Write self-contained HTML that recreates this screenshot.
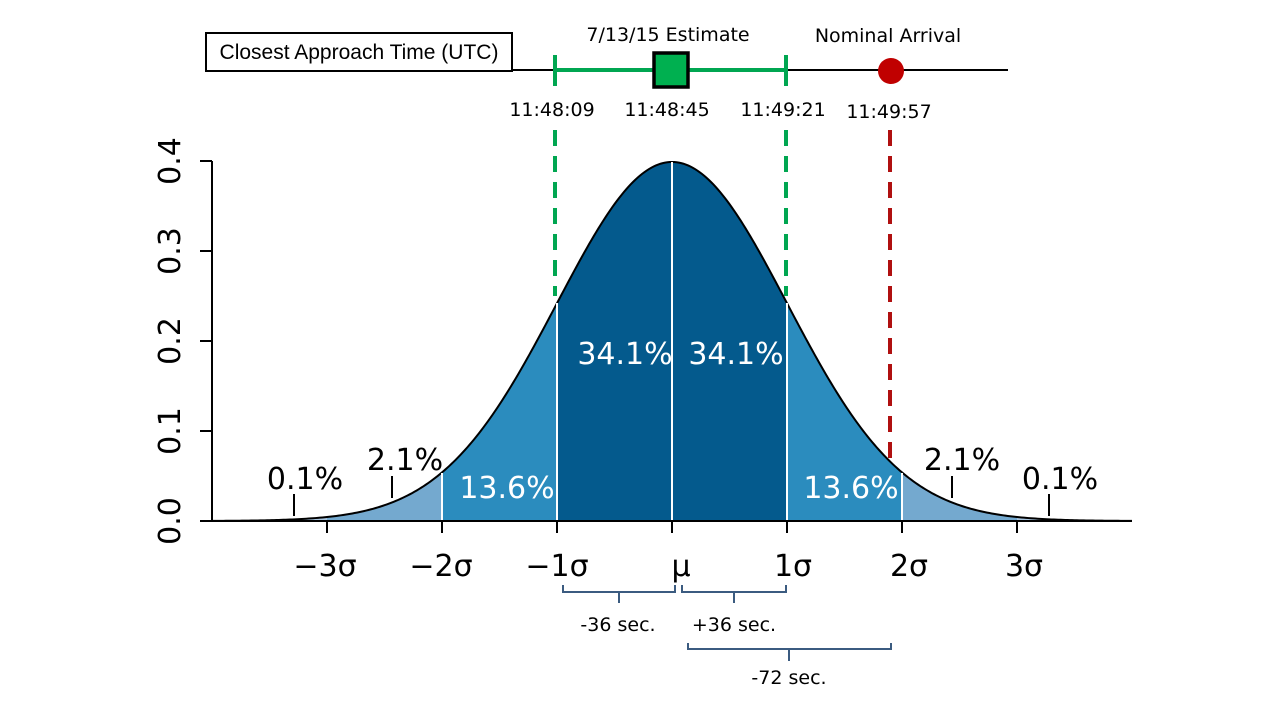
<!DOCTYPE html>
<html><head><meta charset="utf-8"><style>
html,body{margin:0;padding:0;background:#fff;width:1280px;height:720px;overflow:hidden}
svg{display:block}
text{font-family:"DejaVu Sans","Liberation Sans",sans-serif}
.c{font-family:"Liberation Sans",sans-serif}
</style></head><body>
<svg id="s" width="1280" height="720" viewBox="0 0 1280 720" xmlns="http://www.w3.org/2000/svg">
<g id="fills"></g>
<path id="curve" fill="none" stroke="#000" stroke-width="2"/>
<g stroke="#fff" stroke-width="2">
<line x1="442" y1="521" x2="442" y2="473"/>
<line x1="557" y1="521" x2="557" y2="303"/>
<line x1="672" y1="521" x2="672" y2="162"/>
<line x1="787" y1="521" x2="787" y2="303"/>
<line x1="902" y1="521" x2="902" y2="473"/>
</g>
<line x1="212" y1="521" x2="1132" y2="521" stroke="#000" stroke-width="2"/>
<line x1="212" y1="161" x2="212" y2="521" stroke="#000" stroke-width="2"/>
<g stroke="#000" stroke-width="2">
<line x1="200" y1="161" x2="212" y2="161"/><line x1="200" y1="251" x2="212" y2="251"/>
<line x1="200" y1="341" x2="212" y2="341"/><line x1="200" y1="431" x2="212" y2="431"/>
<line x1="200" y1="521" x2="212" y2="521"/>
<line x1="327" y1="521" x2="327" y2="533"/><line x1="442" y1="521" x2="442" y2="533"/>
<line x1="557" y1="521" x2="557" y2="533"/><line x1="672" y1="521" x2="672" y2="533"/>
<line x1="787" y1="521" x2="787" y2="533"/><line x1="902" y1="521" x2="902" y2="533"/>
<line x1="1017" y1="521" x2="1017" y2="533"/>
<line x1="294" y1="494" x2="294" y2="516"/><line x1="392" y1="476" x2="392" y2="498"/>
<line x1="952" y1="476" x2="952" y2="498"/><line x1="1049" y1="494" x2="1049" y2="516"/>
</g>
<g font-size="30" text-anchor="middle">
<text transform="translate(180,161) rotate(-90)">0.4</text>
<text transform="translate(180,251) rotate(-90)">0.3</text>
<text transform="translate(180,341) rotate(-90)">0.2</text>
<text transform="translate(180,431) rotate(-90)">0.1</text>
<text transform="translate(180,521) rotate(-90)">0.0</text>
<text x="325" y="576">−3σ</text><text x="441" y="576">−2σ</text>
<text x="557" y="576">−1σ</text><text x="681" y="576">μ</text>
<text x="793" y="576">1σ</text><text x="909" y="576">2σ</text>
<text x="1024" y="576">3σ</text>
<text x="305" y="489">0.1%</text><text x="405" y="470">2.1%</text>
<text x="962" y="470">2.1%</text><text x="1060" y="489">0.1%</text>
<g fill="#fff"><text x="625" y="364">34.1%</text><text x="736" y="364">34.1%</text>
<text x="507" y="498">13.6%</text><text x="851" y="498">13.6%</text></g>
</g>
<line x1="555" y1="130" x2="555" y2="296" stroke="#00a651" stroke-width="4" stroke-dasharray="16,10"/>
<line x1="786" y1="130" x2="786" y2="296" stroke="#00a651" stroke-width="4" stroke-dasharray="16,10"/>
<line x1="890" y1="130" x2="890" y2="462" stroke="#b01010" stroke-width="4" stroke-dasharray="16,10"/>
<rect x="206" y="33" width="306" height="38" fill="#fff" stroke="#000" stroke-width="2"/>
<text class="c" x="359" y="59" font-size="21" text-anchor="middle">Closest Approach Time (UTC)</text>
<line x1="512" y1="70" x2="1008" y2="70" stroke="#000" stroke-width="2"/>
<line x1="555" y1="70" x2="786" y2="70" stroke="#00a651" stroke-width="4"/>
<line x1="555" y1="55" x2="555" y2="86" stroke="#00a651" stroke-width="4"/>
<line x1="786" y1="55" x2="786" y2="86" stroke="#00a651" stroke-width="4"/>
<rect x="654" y="53" width="34" height="34" fill="#00b050" stroke="#000" stroke-width="3.5"/>
<circle cx="891" cy="71" r="13" fill="#c00000"/>
<g font-size="19" text-anchor="middle">
<text x="668" y="41">7/13/15 Estimate</text>
<text x="888" y="42">Nominal Arrival</text>
<text x="552" y="116">11:48:09</text><text x="667" y="116">11:48:45</text>
<text x="783" y="116">11:49:21</text><text x="889" y="118">11:49:57</text>
<text x="618" y="631">-36 sec.</text><text x="734" y="631">+36 sec.</text>
<text x="789" y="684">-72 sec.</text>
</g>
<g fill="none" stroke="#3b5b80" stroke-width="2">
<path d="M563,585 v7 h112 v-7 M619,592 v11"/>
<path d="M682,585 v7 h104 v-7 M734,592 v11"/>
<path d="M688,643 v6 h203 v-6 M789,649 v12"/>
</g>
</svg>
<script>
(function(){
var mu=672,sg=115,y0=521,k=900;
function f(z){return Math.exp(-z*z/2)/Math.sqrt(2*Math.PI);}
function X(z){return mu+z*sg;} function Y(z){return y0-k*f(z);}
function area(a,b,col){var d="M"+X(a)+","+y0;for(var i=0;i<=200;i++){var z=a+(b-a)*i/200;d+=" L"+X(z).toFixed(2)+","+Y(z).toFixed(2);}d+=" L"+X(b)+","+y0+" Z";
var p=document.createElementNS("http://www.w3.org/2000/svg","path");p.setAttribute("d",d);p.setAttribute("fill",col);document.getElementById("fills").appendChild(p);}
area(-4,-3,"#a9c6e0");area(3,4,"#a9c6e0");
area(-3,-2,"#74a9cf");area(2,3,"#74a9cf");
area(-2,-1,"#2b8cbe");area(1,2,"#2b8cbe");
area(-1,1,"#045a8d");
var d="";for(var i=0;i<=400;i++){var z=-4+8*i/400;d+=(i?" L":"M")+X(z).toFixed(2)+","+Y(z).toFixed(2);}
document.getElementById("curve").setAttribute("d",d);
})();
</script>
</body></html>
